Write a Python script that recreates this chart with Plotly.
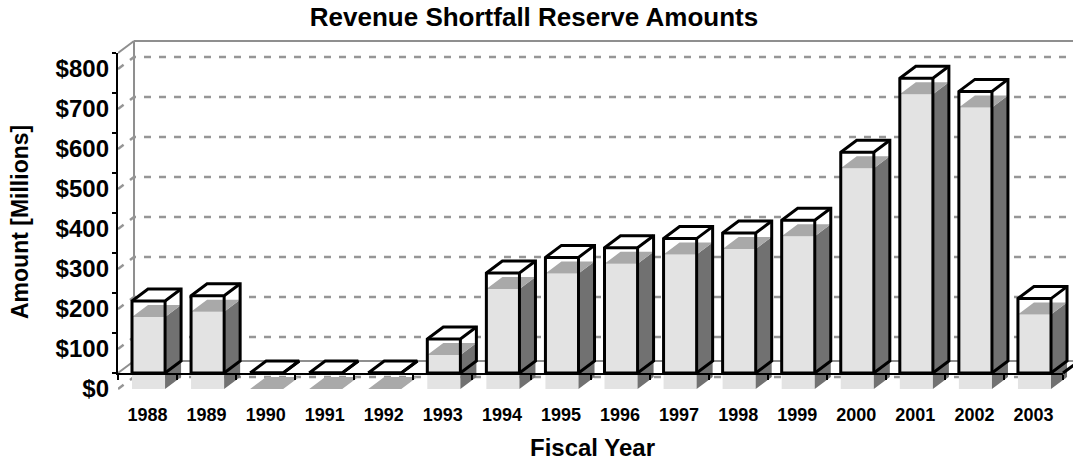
import plotly.graph_objects as go

# ---- data -------------------------------------------------------------
years = [1988, 1989, 1990, 1991, 1992, 1993, 1994, 1995,
         1996, 1997, 1998, 1999, 2000, 2001, 2002, 2003]
amounts = [180, 193, 0, 0, 0, 85, 250, 289,
           313, 336, 350, 382, 552, 737, 704, 186]
value_ticks = [0, 100, 200, 300, 400, 500, 600, 700, 800]
value_tick_text = ["$" + str(v) for v in value_ticks]

# ---- 3-D look ----------------------------------------------------------
FACE_L, FACE_R = 0.237, 0.797   # front face span inside a category slot
DX, DY = 0.271, 30              # depth offset (categories, value units)
DROP = 40                       # the shaded copy sits this far below
WALL_TOP = 800

W, H = 1073, 466
M_L, M_R, M_T, M_B = 118, 0, 30, 66
PX_PER_CAT = 945 / 16
PX_PER_UNIT = 0.4
ZERO_PX = 373
plot_w = W - M_L - M_R
plot_h = H - M_T - M_B
x_range = [0, plot_w / PX_PER_CAT]
y_range = [-(H - M_B - ZERO_PX) / PX_PER_UNIT, (ZERO_PX - M_T) / PX_PER_UNIT]
X_FAR = 17.5

FONT = "Liberation Sans, Arial, sans-serif"
GRID_GREY = "#969696"
WALL_GREY = "#8f8f8f"


def polys(shapes):
    xs, ys = [], []
    for pts in shapes:
        for px, py in pts:
            xs.append(px)
            ys.append(py)
        xs.append(None)
        ys.append(None)
    return xs, ys


def box_faces(i, v, base):
    x0, x1 = i + FACE_L, i + FACE_R
    top = base + v
    front = [(x0, base), (x1, base), (x1, top), (x0, top)]
    side = [(x1, base), (x1 + DX, base + DY), (x1 + DX, top + DY), (x1, top)]
    lid = [(x0, top), (x1, top), (x1 + DX, top + DY), (x0 + DX, top + DY)]
    return front, side, lid


fig = go.Figure()

# walls and floor edges
wall_segments = [
    [(DX, WALL_TOP + DY), (X_FAR, WALL_TOP + DY)],
    [(0, WALL_TOP), (DX, WALL_TOP + DY)],
    [(DX, DY), (DX, WALL_TOP + DY)],
    [(DX, DY), (X_FAR, DY)],
    [(0, 0), (DX, DY)],
]
wx, wy = polys(wall_segments)
fig.add_trace(go.Scatter(x=wx, y=wy, mode="lines", hoverinfo="skip",
                         line=dict(color=WALL_GREY, width=2)))

# dashed gridlines on the back wall (shaded layer)
grid_segments = [[(0, v - DROP), (DX, v - DROP + DY), (X_FAR, v - DROP + DY)]
                 for v in value_ticks]
gx, gy = polys(grid_segments)
fig.add_trace(go.Scatter(x=gx, y=gy, mode="lines", hoverinfo="skip",
                         line=dict(color=GRID_GREY, width=2.5, dash="7px,8px")))

# white boxes behind the outlines
white = []
for i, v in enumerate(amounts):
    white.extend(box_faces(i, v, 0))
fx, fy = polys(white)
fig.add_trace(go.Scatter(x=fx, y=fy, mode="lines", fill="toself",
                         fillcolor="white", line=dict(width=0),
                         hoverinfo="skip"))

# shaded columns
fronts, sides, lids = [], [], []
for i, v in enumerate(amounts):
    f, s, l = box_faces(i, v, -DROP)
    fronts.append(f)
    sides.append(s)
    lids.append(l)
for shapes, colour in ((fronts, "#e3e3e3"), (sides, "#717171"), (lids, "#a9a9a9")):
    sx, sy = polys(shapes)
    fig.add_trace(go.Scatter(x=sx, y=sy, mode="lines", fill="toself",
                             fillcolor=colour, line=dict(width=0),
                             hoverinfo="skip"))

# black outlines of the columns
outline = []
for i, v in enumerate(amounts):
    x0, x1 = i + FACE_L, i + FACE_R
    outline.append([(x0, 0), (x1, 0), (x1 + DX, DY), (x1 + DX, v + DY),
                    (x0 + DX, v + DY), (x0, v), (x0, 0)])
    outline.append([(x0, v), (x1, v), (x1 + DX, v + DY)])
    outline.append([(x1, v), (x1, 0)])
outline.append([(len(years), 0), (len(years) + DX, DY)])
ox, oy = polys(outline)
fig.add_trace(go.Scatter(x=ox, y=oy, mode="lines", hoverinfo="skip",
                         line=dict(color="black", width=3)))

# year labels at the slot centres
fig.add_trace(go.Scatter(x=[i + 0.5 for i in range(len(years))],
                         y=[None] * len(years), mode="markers",
                         hoverinfo="skip", showlegend=False))

# carriers for the front axes and the dollar labels
fig.add_trace(go.Scatter(x=[None], y=[None], xaxis="x2", yaxis="y2",
                         hoverinfo="skip"))
fig.add_trace(go.Scatter(x=[None], y=[None], xaxis="x", yaxis="y3",
                         hoverinfo="skip"))

front_x_dom = [0, (len(years) * PX_PER_CAT) / plot_w]
front_y_dom = [(H - M_B - ZERO_PX) / plot_h,
               (H - M_B - ZERO_PX + WALL_TOP * PX_PER_UNIT) / plot_h]

fig.update_layout(
    width=W, height=H,
    margin=dict(l=M_L, r=M_R, t=M_T, b=M_B),
    paper_bgcolor="white", plot_bgcolor="rgba(0,0,0,0)",
    showlegend=False,
    font=dict(family=FONT, color="black"),
    title=dict(text="<b>Revenue Shortfall Reserve Amounts</b>",
               font=dict(size=26, family=FONT, color="black"),
               x=534 / W, xref="container", xanchor="center",
               y=1 - 17 / H, yref="container", yanchor="middle"),
    xaxis=dict(range=x_range, tickmode="array",
               tickvals=[i + 0.5 for i in range(len(years))],
               ticktext=["<b>%d</b>" % y for y in years],
               tickfont=dict(size=18, family=FONT, color="black"),
               ticks="", showgrid=False, zeroline=False, showline=False,
               ticklabelstandoff=2, fixedrange=True),
    yaxis=dict(range=y_range, visible=False, fixedrange=True),
    xaxis2=dict(domain=front_x_dom, anchor="y2", range=[0, len(years)],
                tickmode="array", tickvals=list(range(len(years) + 1)),
                ticks="outside", ticklen=5, tickwidth=2, tickcolor="black",
                showticklabels=False, showgrid=False, zeroline=False,
                showline=True, linecolor="black", linewidth=2),
    yaxis2=dict(domain=front_y_dom, anchor="x2", range=[0, WALL_TOP],
                tickmode="array", tickvals=value_ticks,
                ticks="outside", ticklen=4, tickwidth=2, tickcolor="black",
                showticklabels=False, showgrid=False, zeroline=False,
                showline=True, linecolor="black", linewidth=2),
    yaxis3=dict(overlaying="y", anchor="x", side="left",
                range=[y_range[0] + DROP, y_range[1] + DROP],
                tickmode="array", tickvals=value_ticks,
                ticktext=["<b>%s</b>" % t for t in value_tick_text],
                tickfont=dict(size=24, family=FONT, color="black"),
                ticks="", showgrid=False, zeroline=False, showline=False,
                ticklabelstandoff=8),
    annotations=[
        dict(text="<b>Amount [Millions]</b>", textangle=-90,
             xref="paper", yref="paper",
             x=(20 - M_L) / plot_w, y=(H - M_B - 222) / plot_h,
             xanchor="center", yanchor="middle", showarrow=False,
             font=dict(size=23, family=FONT, color="black")),
        dict(text="<b>Fiscal Year</b>",
             xref="paper", yref="paper",
             x=(592 - M_L) / plot_w, y=(H - M_B - 447) / plot_h,
             xanchor="center", yanchor="middle", showarrow=False,
             font=dict(size=24, family=FONT, color="black")),
    ],
)

fig.write_html("out.html")
